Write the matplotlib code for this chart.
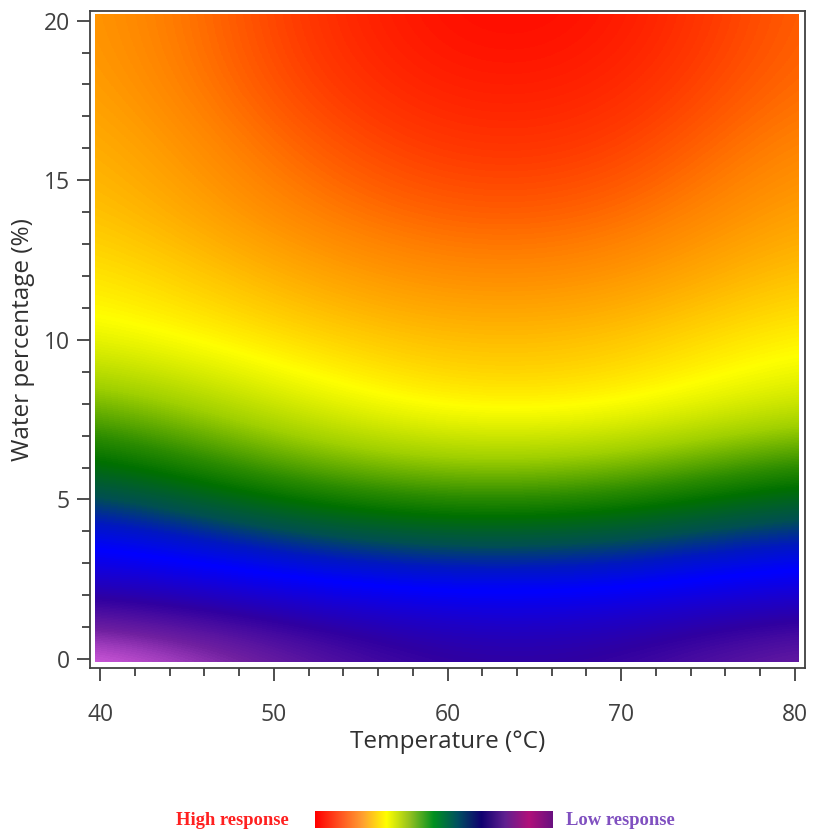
import numpy as np
import matplotlib
matplotlib.use("Agg")
import matplotlib.pyplot as plt
from matplotlib.colors import LinearSegmentedColormap
from matplotlib.patches import Rectangle
from matplotlib.ticker import MultipleLocator

# response (0 = low, 1 = high)
temperature = [40, 50, 60, 70, 80]
water = [0, 2, 4, 6, 8, 10, 12, 14, 16, 18, 20]
response = [
    [0.00, 0.11, 0.19, 0.18, 0.10],   # 0 %
    [0.21, 0.25, 0.275, 0.27, 0.24],  # 2 %
    [0.30, 0.37, 0.415, 0.40, 0.34],  # 4 %
    [0.42, 0.53, 0.59, 0.57, 0.48],   # 6 %
    [0.55, 0.66, 0.74, 0.73, 0.65],   # 8 %
    [0.685, 0.745, 0.79, 0.78, 0.715],# 10 %
    [0.73, 0.80, 0.85, 0.84, 0.77],   # 12 %
    [0.77, 0.85, 0.90, 0.89, 0.81],   # 14 %
    [0.79, 0.88, 0.94, 0.93, 0.84],   # 16 %
    [0.81, 0.91, 0.97, 0.96, 0.87],   # 18 %
    [0.82, 0.92, 0.99, 0.98, 0.88],   # 20 %
]

surface_colors = [
    (0.00, "#ff80ff"), (0.05, "#c050d0"), (0.11, "#7020a0"), (0.19, "#3000a0"),
    (0.24, "#1800d0"), (0.285, "#0000ff"), (0.33, "#0018c0"), (0.38, "#005050"),
    (0.45, "#007000"), (0.50, "#2c8c00"), (0.60, "#a0d000"), (0.71, "#ffff00"),
    (0.80, "#ffb000"), (0.86, "#ff8000"), (0.93, "#ff3800"), (1.00, "#ff0000"),
]
legend_colors = ["#ff0000", "#ff5020", "#ffa030", "#ffff00", "#90c020", "#009020",
                 "#005060", "#100070", "#602090", "#b0107a", "#6a1080"]

cmap = LinearSegmentedColormap.from_list("surface", surface_colors)
legend_cmap = LinearSegmentedColormap.from_list("legend", legend_colors)

fig = plt.figure(figsize=(8.13, 8.39), dpi=100)
ax = fig.add_axes([0.1107, 0.2038, 0.8795, 0.783])

dx = (temperature[1] - temperature[0]) / 2
dy = (water[1] - water[0]) / 2
im = ax.imshow(np.array(response), origin="lower", cmap=cmap, vmin=0, vmax=1,
               extent=[temperature[0] - dx, temperature[-1] + dx, water[0] - dy, water[-1] + dy],
               interpolation="bicubic", interpolation_stage="data", aspect="auto")
clip = Rectangle((39.7, -0.1), 40.5, 20.3, transform=ax.transData)
im.set_clip_path(clip)

ax.set_xlim(39.42, 80.58)
ax.set_ylim(-0.28, 20.3)
ax.xaxis.set_major_locator(MultipleLocator(10))
ax.xaxis.set_minor_locator(MultipleLocator(2))
ax.yaxis.set_major_locator(MultipleLocator(5))
ax.yaxis.set_minor_locator(MultipleLocator(1))
ax.tick_params(which="major", direction="out", length=9.5, width=1.3, color="#404040",
               labelsize=16.5, labelcolor="#404040")
ax.tick_params(which="minor", direction="out", length=6, width=1.3, color="#404040")
ax.tick_params(axis="x", which="major", pad=16)
ax.tick_params(axis="y", which="major", pad=5)
for lab in ax.get_xticklabels() + ax.get_yticklabels():
    lab.set_family("Open Sans")
for sp in ax.spines.values():
    sp.set_color("#404040")
    sp.set_linewidth(1.3)

ax.set_xlabel("Temperature (°C)", family="Open Sans", fontsize=17.5, color="#303030", labelpad=2)
ax.set_ylabel("Water percentage (%)", family="Open Sans", fontsize=17.5, color="#303030", labelpad=6)

# legend bar under the chart
lax = fig.add_axes([0.3875, 0.0131, 0.2927, 0.0203])
lax.imshow(np.linspace(0, 1, 256)[None, :], cmap=legend_cmap, aspect="auto")
lax.set_axis_off()
fig.text(0.2855, 0.0215, "High response", family="Liberation Serif", weight="bold",
         fontsize=13.4, color="#ff2020", ha="center", va="center")
fig.text(0.7625, 0.0215, "Low response", family="Liberation Serif", weight="bold",
         fontsize=13.4, color="#8050c0", ha="center", va="center")

fig.savefig("out.png", dpi=100)
